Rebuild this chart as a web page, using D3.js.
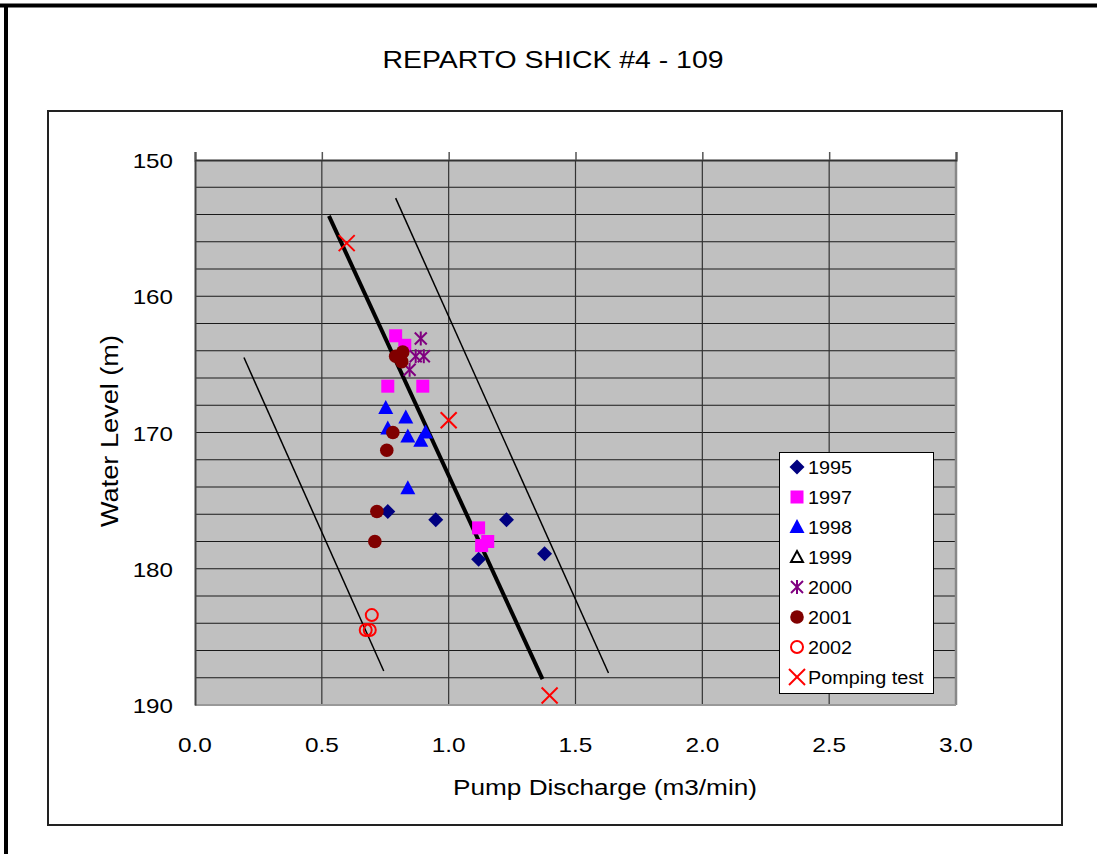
<!DOCTYPE html>
<html><head><meta charset="utf-8">
<script src="https://cdn.jsdelivr.net/npm/d3@7"></script>
<style>body{margin:0;background:#fff}svg{display:block}text{font-family:"Liberation Sans",Arial,sans-serif}</style>
</head><body>
<script>
const title = "REPARTO SHICK #4 - 109";
const xTicks = [0, 0.5, 1.0, 1.5, 2.0, 2.5, 3.0];
const yTicks = [150, 160, 170, 180, 190];
const s1995 = [[0.76,175.8],[0.949,176.4],[1.228,176.4],[1.118,179.3],[1.378,178.9]];
const s1997 = [[0.791,162.9],[0.827,163.6],[0.76,166.6],[0.898,166.6],[1.118,177.0],[1.154,178.0],[1.13,178.3]];
const s1998 = [[0.752,168.2],[0.831,168.9],[0.76,169.7],[0.839,170.3],[0.909,170.0],[0.89,170.6],[0.839,174.1]];
const s1999 = [];
const s2000 = [[0.89,163.1],[0.87,164.4],[0.902,164.4],[0.846,165.4]];
const s2001 = [[0.819,164.1],[0.791,164.4],[0.815,164.8],[0.78,170.0],[0.756,171.3],[0.717,175.8],[0.709,178.0]];
const s2002 = [[0.697,183.4],[0.673,184.5],[0.689,184.5]];
const sPump = [[0.598,156.1],[1.0,169.1],[1.398,189.3]];
const lineCenter = [[0.528,154.1],[1.37,188.1]];
const lineRight = [[0.791,152.8],[1.63,187.65]];
const lineLeft = [[0.193,164.5],[0.744,187.5]];
const legendNames = ["1995","1997","1998","1999","2000","2001","2002","Pomping test"];

const W=1097,H=854;
const svg=d3.select("body").append("svg").attr("width",W).attr("height",H);
function stretch(sel,f){sel.each(function(){const w=this.getComputedTextLength();d3.select(this).attr("textLength",w*f).attr("lengthAdjust","spacingAndGlyphs");});}
// outer frame
svg.append("line").attr("x1",0).attr("x2",W).attr("y1",5.5).attr("y2",5.5).attr("stroke","#000").attr("stroke-width",4);
svg.append("line").attr("x1",6).attr("x2",6).attr("y1",4).attr("y2",H).attr("stroke","#000").attr("stroke-width",4);
// chart box
svg.append("rect").attr("x",48).attr("y",111).attr("width",1014).attr("height",714).attr("fill","#fff").attr("stroke","#222").attr("stroke-width",2);

svg.append("text").attr("x",553).attr("y",68).attr("text-anchor","middle").attr("font-size",23).attr("textLength",341).attr("lengthAdjust","spacingAndGlyphs").text(title);

const x=d3.scaleLinear().domain([0,3]).range([195,956]);
const y=d3.scaleLinear().domain([150,190]).range([160,705]);

svg.append("rect").attr("x",x(0)).attr("y",y(150)).attr("width",x(3)-x(0)).attr("height",y(190)-y(150)).attr("fill","#c0c0c0");
// grid
const hg=d3.range(152,190,2);
svg.selectAll(".hg").data(hg).join("line").attr("x1",x(0)).attr("x2",x(3)).attr("y1",d=>y(d)).attr("y2",d=>y(d)).attr("stroke","#1a1a1a").attr("stroke-width",1.2);
svg.selectAll(".vg").data(xTicks.slice(1,-1)).join("line").attr("x1",d=>x(d)).attr("x2",d=>x(d)).attr("y1",y(150)).attr("y2",y(190)).attr("stroke","#333").attr("stroke-width",1.2);
// borders
svg.append("line").attr("x1",x(3)).attr("x2",x(3)).attr("y1",y(150)).attr("y2",y(190)).attr("stroke","#888").attr("stroke-width",2.5);
svg.append("line").attr("x1",x(0)).attr("x2",x(3)).attr("y1",y(190)).attr("y2",y(190)).attr("stroke","#999").attr("stroke-width",2);
// x axis at top (150)
const xa=svg.append("g").attr("transform",`translate(0,${y(150)})`).call(d3.axisTop(x).tickValues(xTicks).tickSize(8).tickFormat(()=>""));
xa.select(".domain").attr("stroke","#333").attr("stroke-width",2);
xa.selectAll(".tick line").attr("stroke","#555").attr("stroke-width",1.5);
// y axis
const ya=svg.append("g").attr("transform",`translate(${x(0)},0)`).call(d3.axisLeft(y).tickValues(yTicks).tickSize(0).tickFormat(""));
ya.select(".domain").attr("stroke","#444").attr("stroke-width",2);
// tick labels
const xl=svg.selectAll(".xl").data(xTicks).join("text").attr("x",d=>x(d)).attr("y",752).attr("text-anchor","middle").attr("font-size",21).text(d=>d.toFixed(1));
stretch(xl,1.16);
const yl=svg.selectAll(".yl").data(yTicks).join("text").attr("x",173).attr("y",d=>y(d)+8).attr("text-anchor","end").attr("font-size",21).text(d=>d);
stretch(yl,1.15);
svg.append("text").attr("x",605).attr("y",795).attr("text-anchor","middle").attr("font-size",22).attr("textLength",304).attr("lengthAdjust","spacingAndGlyphs").text("Pump Discharge (m3/min)");
svg.append("text").attr("transform",`translate(118,431) rotate(-90)`).attr("text-anchor","middle").attr("font-size",23).attr("textLength",192).attr("lengthAdjust","spacingAndGlyphs").text("Water Level (m)");

// lines
const lg=d3.line().x(d=>x(d[0])).y(d=>y(d[1]));
svg.append("path").attr("d",lg(lineCenter)).attr("stroke","#000").attr("stroke-width",4).attr("fill","none");
svg.append("path").attr("d",lg(lineRight)).attr("stroke","#000").attr("stroke-width",1.5).attr("fill","none");
svg.append("path").attr("d",lg(lineLeft)).attr("stroke","#000").attr("stroke-width",1.5).attr("fill","none");

// marker drawers
function marker(g,type,cx,cy){
  if(type==="diamond"){g.append("path").attr("d",`M${cx},${cy-7.5}L${cx+7.5},${cy}L${cx},${cy+7.5}L${cx-7.5},${cy}Z`).attr("fill","#000080");}
  else if(type==="square"){g.append("rect").attr("x",cx-6.5).attr("y",cy-6.5).attr("width",13).attr("height",13).attr("fill","#ff00ff");}
  else if(type==="tri"){g.append("path").attr("d",`M${cx},${cy-8}L${cx+7.5},${cy+6}L${cx-7.5},${cy+6}Z`).attr("fill","#0000ff");}
  else if(type==="otri"){g.append("path").attr("d",`M${cx},${cy-6}L${cx+6},${cy+5}L${cx-6},${cy+5}Z`).attr("fill","none").attr("stroke","#000").attr("stroke-width",2);}
  else if(type==="star"){const p=g.append("g").attr("stroke","#800080").attr("stroke-width",2);
    p.append("line").attr("x1",cx).attr("x2",cx).attr("y1",cy-7).attr("y2",cy+7);
    p.append("line").attr("x1",cx-6).attr("x2",cx+6).attr("y1",cy-6).attr("y2",cy+6);
    p.append("line").attr("x1",cx-6).attr("x2",cx+6).attr("y1",cy+6).attr("y2",cy-6);}
  else if(type==="circle"){g.append("circle").attr("cx",cx).attr("cy",cy).attr("r",6.8).attr("fill","#800000");}
  else if(type==="ocircle"){g.append("circle").attr("cx",cx).attr("cy",cy).attr("r",6).attr("fill","none").attr("stroke","#ff0000").attr("stroke-width",2);}
  else if(type==="x"){const p=g.append("g").attr("stroke","#ff0000").attr("stroke-width",2);
    p.append("line").attr("x1",cx-8).attr("x2",cx+8).attr("y1",cy-8).attr("y2",cy+8);
    p.append("line").attr("x1",cx-8).attr("x2",cx+8).attr("y1",cy+8).attr("y2",cy-8);}
}
const seriesList=[[s1995,"diamond"],[s1997,"square"],[s1998,"tri"],[s1999,"otri"],[s2000,"star"],[s2001,"circle"],[s2002,"ocircle"],[sPump,"x"]];
const mg=svg.append("g");
seriesList.forEach(([data,type])=>data.forEach(d=>marker(mg,type,x(d[0]),y(d[1]))));

// legend
const lgd=svg.append("g");
lgd.append("rect").attr("x",779.5).attr("y",452.5).attr("width",154).attr("height",241).attr("fill","#fff").attr("stroke","#000").attr("stroke-width",1);
legendNames.forEach((n,i)=>{
  const cy=467+i*30;
  marker(lgd,seriesList[i][1],797,cy);
  const t=lgd.append("text").attr("x",808).attr("y",cy+6.5).attr("font-size",18).text(n);
  stretch(t,1.1);
});
</script>
</body></html>
